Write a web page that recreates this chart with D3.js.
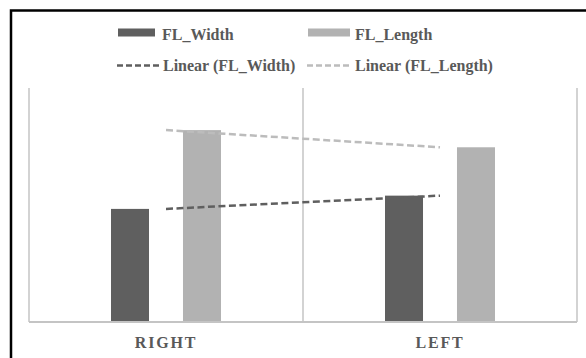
<!DOCTYPE html>
<html>
<head>
<meta charset="utf-8">
<script src="https://cdn.jsdelivr.net/npm/d3@7"></script>
<style>
  body { margin: 0; background: #fff; overflow: hidden; }
  svg { display: block; }
</style>
</head>
<body>
<div id="chart-area"></div>
<script>
// data (no value axis shown, scale 0-30 assumed)
var categories = ["RIGHT", "LEFT"];
var series = ["FL_Width", "FL_Length"];
var flWidth = [14.5, 16.2];
var flLength = [24.6, 22.4];
var trendLabels = ["Linear (FL_Width)", "Linear (FL_Length)"];

var colors = { FL_Width: "#5f5f5f", FL_Length: "#b2b2b2" };
var trendColors = { FL_Width: "#5f5f5f", FL_Length: "#bcbcbc" };
var values = { FL_Width: flWidth, FL_Length: flLength };
var serif = "'Liberation Serif', 'Times New Roman', Times, serif";

var svg = d3.select("#chart-area").append("svg")
    .attr("width", 586)
    .attr("height", 358)
    .style("font-family", serif)
    .style("font-weight", "bold");

// outer frame, only left and top edges are in view
svg.append("path")
    .attr("d", "M11,358V10.5H586")
    .attr("fill", "none")
    .attr("stroke", "#000")
    .attr("stroke-width", 2.5);

var x = d3.scaleBand()
    .domain(categories)
    .range([29, 577])
    .padding(0);

var xInner = d3.scaleBand()
    .domain(series)
    .range([-55, 55])
    .paddingInner(0.472)
    .paddingOuter(0);

var y = d3.scaleLinear()
    .domain([0, 30])
    .range([322, 88]);

// category separators
var edges = [x(categories[0]), x(categories[1]), x(categories[1]) + x.bandwidth()];
svg.selectAll(".sep")
    .data(edges)
    .enter().append("line")
    .attr("x1", d => d).attr("x2", d => d)
    .attr("y1", y(30)).attr("y2", y(0))
    .attr("stroke", "#c4c4c4")
    .attr("stroke-width", 1.5);

// bars
var rows = [];
categories.forEach((c, i) => {
    series.forEach(s => rows.push({ cat: c, key: s, value: values[s][i] }));
});

svg.selectAll(".bar")
    .data(rows)
    .enter().append("rect")
    .attr("x", d => x(d.cat) + x.bandwidth() / 2 + xInner(d.key))
    .attr("y", d => y(d.value))
    .attr("width", xInner.bandwidth())
    .attr("height", d => y(0) - y(d.value))
    .attr("fill", d => colors[d.key]);

// baseline axis
svg.append("line")
    .attr("x1", 29).attr("x2", 577)
    .attr("y1", y(0)).attr("y2", y(0))
    .attr("stroke", "#c4c4c4")
    .attr("stroke-width", 2);

// linear trendlines (least squares over category index 1..n)
function linearFit(vals) {
    var xs = vals.map((v, i) => i + 1);
    var mx = d3.mean(xs), my = d3.mean(vals);
    var num = d3.sum(xs.map((xv, i) => (xv - mx) * (vals[i] - my)));
    var den = d3.sum(xs.map(xv => (xv - mx) * (xv - mx)));
    var b = num / den;
    var a = my - b * mx;
    return xs.map(xv => a + b * xv);
}

var line = d3.line()
    .x((d, i) => x(categories[i]) + x.bandwidth() / 2)
    .y(d => y(d));

series.forEach(s => {
    svg.append("path")
        .datum(linearFit(values[s]))
        .attr("d", line)
        .attr("fill", "none")
        .attr("stroke", trendColors[s])
        .attr("stroke-width", 2.5)
        .attr("stroke-dasharray", "7,3.5");
});

// category labels
svg.selectAll(".cat")
    .data(categories)
    .enter().append("text")
    .attr("x", d => x(d) + x.bandwidth() / 2)
    .attr("y", 347.5)
    .attr("text-anchor", "middle")
    .style("font-size", "16px")
    .attr("letter-spacing", 1.8)
    .attr("fill", "#595959")
    .text(d => d);

// legend
var legX = [118, 308];
var legend = svg.append("g");
series.forEach((s, i) => {
    legend.append("rect")
        .attr("x", legX[i]).attr("y", 28.5)
        .attr("width", i === 0 ? 37 : 42).attr("height", 8)
        .attr("fill", colors[s]);
    legend.append("text")
        .attr("x", i === 0 ? 162 : 355).attr("y", 39.5)
        .style("font-size", "16px")
        .attr("fill", "#595959")
        .text(s);
    legend.append("line")
        .attr("x1", legX[i] - 1).attr("x2", legX[i] + 42)
        .attr("y1", 65.5).attr("y2", 65.5)
        .attr("stroke", trendColors[s])
        .attr("stroke-width", 2.5)
        .attr("stroke-dasharray", "6,3");
    legend.append("text")
        .attr("x", i === 0 ? 163 : 355).attr("y", 70.5)
        .style("font-size", "16px")
        .attr("fill", "#595959")
        .text(trendLabels[i]);
});
</script>
</body>
</html>
